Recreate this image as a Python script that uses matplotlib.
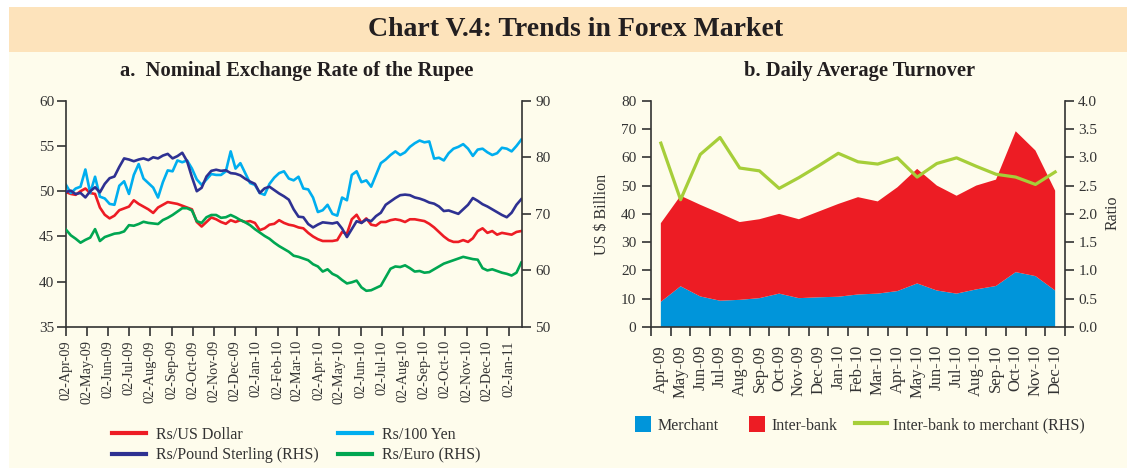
import matplotlib
matplotlib.use('Agg')
import matplotlib.pyplot as plt
import matplotlib.dates as mdates
from matplotlib.patches import Rectangle, Patch
from matplotlib.lines import Line2D
from matplotlib.ticker import FixedLocator, FormatStrFormatter
import numpy as np
import pandas as pd

# ---------------- data: panel a (weekly readings from 02-Apr-2009) ----------------
usd = [49.9, 49.7, 49.6, 50.0, 50.3, 49.8, 49.7, 48.2, 47.4, 47.0,
       47.3, 47.9, 48.1, 48.3, 49.0, 48.6, 48.3, 48.0, 47.6, 48.2,
       48.5, 48.8, 48.7, 48.6, 48.4, 48.2, 48.0, 46.6, 46.1, 46.6,
       47.1, 46.9, 46.6, 46.4, 46.8, 46.6, 46.8, 46.6, 46.7, 46.5,
       45.7, 45.9, 46.3, 46.4, 46.8, 46.5, 46.3, 46.2, 46.0, 45.9,
       45.4, 45.0, 44.7, 44.5, 44.5, 44.5, 44.6, 45.5, 45.3, 46.9,
       47.4, 46.5, 47.0, 46.3, 46.2, 46.6, 46.6, 46.8, 46.9, 46.8,
       46.6, 46.9, 46.9, 46.8, 46.7, 46.4, 46.0, 45.5, 45.0, 44.6,
       44.4, 44.4, 44.6, 44.4, 44.8, 45.6, 45.9, 45.4, 45.6, 45.2,
       45.4, 45.3, 45.2, 45.5, 45.6]
yen = [50.7, 49.8, 50.3, 50.5, 52.4, 49.8, 51.6, 49.4, 49.2, 48.6,
       48.5, 50.6, 51.1, 49.7, 51.8, 53.0, 51.4, 50.9, 50.4, 49.3,
       51.0, 52.3, 52.2, 53.4, 53.2, 53.4, 52.5, 51.3, 50.7, 51.3,
       51.9, 51.8, 51.8, 52.2, 54.4, 52.5, 53.1, 52.0, 50.9, 50.7,
       49.8, 49.6, 50.8, 51.5, 52.0, 52.2, 51.4, 51.2, 51.6, 50.3,
       50.2, 49.3, 47.7, 47.9, 48.5, 47.5, 47.3, 49.3, 49.0, 51.8,
       52.2, 51.0, 51.2, 50.5, 51.8, 53.1, 53.5, 54.0, 54.4, 54.0,
       54.3, 54.9, 55.3, 55.6, 55.4, 55.5, 53.6, 53.7, 53.4, 54.2,
       54.7, 54.9, 55.2, 54.7, 53.9, 54.6, 54.7, 54.3, 54.0, 54.2,
       54.8, 54.7, 54.4, 55.0, 55.7]
pound = [73.9, 74.1, 73.5, 73.7, 72.9, 74.0, 74.7, 73.8, 75.3, 76.3,
         76.6, 78.3, 79.8, 79.6, 79.3, 79.6, 79.8, 79.5, 80.0, 79.8,
         80.3, 80.6, 79.8, 80.2, 80.8, 79.3, 76.5, 74.0, 74.6, 76.6,
         77.6, 77.8, 77.6, 77.7, 77.2, 77.1, 76.8, 76.2, 75.7, 75.3,
         73.7, 74.5, 74.8, 74.2, 73.6, 73.1, 72.5, 70.8, 69.5, 69.4,
         68.2, 67.6, 68.1, 68.5, 68.4, 68.3, 68.5, 67.4, 65.9, 67.3,
         68.7, 68.4, 69.0, 68.7, 69.6, 70.2, 71.6, 72.2, 72.8, 73.3,
         73.4, 73.3, 72.9, 72.7, 72.4, 72.0, 71.8, 71.3, 70.5, 70.6,
         70.3, 70.0, 70.8, 71.6, 72.8, 72.3, 71.7, 71.3, 70.8, 70.3,
         69.8, 69.4, 70.2, 71.6, 72.6]
euro = [67.2, 66.2, 65.6, 64.9, 65.4, 65.8, 67.3, 65.2, 65.9, 66.2,
        66.5, 66.6, 66.9, 68.0, 67.9, 68.2, 68.6, 68.4, 68.3, 68.2,
        68.9, 69.3, 69.8, 70.4, 71.0, 71.0, 70.6, 68.7, 68.4, 69.4,
        69.8, 69.8, 69.3, 69.4, 69.8, 69.4, 68.9, 68.5, 68.0, 67.3,
        66.7, 66.1, 65.6, 64.9, 64.3, 63.8, 63.3, 62.6, 62.4, 62.1,
        61.8, 61.1, 60.7, 59.8, 60.2, 59.4, 59.0, 58.3, 57.7, 57.9,
        58.2, 57.0, 56.4, 56.5, 56.9, 57.3, 58.8, 60.3, 60.7, 60.6,
        60.9, 60.4, 59.8, 59.9, 59.6, 59.7, 60.2, 60.7, 61.2, 61.5,
        61.8, 62.1, 62.4, 62.2, 62.0, 61.9, 60.4, 60.0, 60.2, 59.9,
        59.6, 59.4, 59.1, 59.6, 61.4]
start_date = '2009-04-02'
end_date = '2011-01-21'

# ---------------- data: panel b ----------------
months = ['Apr-09', 'May-09', 'Jun-09', 'Jul-09', 'Aug-09', 'Sep-09', 'Oct-09',
          'Nov-09', 'Dec-09', 'Jan-10', 'Feb-10', 'Mar-10', 'Apr-10', 'May-10',
          'Jun-10', 'Jul-10', 'Aug-10', 'Sep-10', 'Oct-10', 'Nov-10', 'Dec-10']
merchant = [8.9, 14.4, 10.8, 9.3, 9.6, 10.2, 11.8, 10.2, 10.5, 10.7, 11.5,
            11.8, 12.7, 15.4, 12.9, 11.8, 13.3, 14.5, 19.4, 18.0, 12.9]
interbank = [27.8, 32.0, 32.4, 30.9, 27.5, 27.9, 28.2, 27.9, 30.3, 32.8, 34.4,
             32.6, 36.7, 40.5, 37.1, 34.6, 36.7, 37.6, 49.8, 44.4, 35.3]
ratio = [3.25, 2.25, 3.05, 3.35, 2.81, 2.76, 2.45, 2.64, 2.85, 3.07, 2.92,
         2.88, 2.99, 2.65, 2.89, 2.99, 2.84, 2.70, 2.65, 2.52, 2.74]

# ---------------- style ----------------
plt.rcParams['font.family'] = ['Liberation Serif', 'DejaVu Serif']
CREAM = '#fefcec'
ORANGE = '#fde3bb'
AXC = '#333333'
TXT = '#333333'
C_USD, C_YEN, C_GBP, C_EUR = '#ed1c24', '#00aeef', '#2e3192', '#00a651'
C_MER, C_INT, C_RAT = '#0095da', '#ed1c24', '#a6ce39'

W, H = 1127, 468
fig = plt.figure(figsize=(W / 100, H / 100), dpi=100)
fig.patch.set_facecolor('white')


def fx(px):
    return px / W


def fy(py):
    return 1 - py / H


fig.add_artist(Rectangle((fx(9), fy(468)), fx(1127) - fx(9), fy(52) - fy(468),
                         transform=fig.transFigure, facecolor=CREAM,
                         edgecolor='none', zorder=-10))
fig.add_artist(Rectangle((fx(9), fy(52)), fx(1127) - fx(9), fy(7) - fy(52),
                         transform=fig.transFigure, facecolor=ORANGE,
                         edgecolor='none', zorder=-10))

fig.text(fx(576), fy(30), 'Chart V.4: Trends in Forex Market', ha='center',
         va='center', fontsize=20, fontweight='bold', color='#231f20')
fig.text(fx(297), fy(71), 'a.  Nominal Exchange Rate of the Rupee', ha='center',
         va='center', fontsize=14.8, fontweight='bold', color='#231f20')
fig.text(fx(860), fy(71), 'b. Daily Average Turnover', ha='center',
         va='center', fontsize=14.8, fontweight='bold', color='#231f20')


def style_spines(ax, visible):
    for s in ['top', 'bottom', 'left', 'right']:
        ax.spines[s].set_visible(s in visible)
        ax.spines[s].set_color(AXC)
        ax.spines[s].set_linewidth(1.2)
    ax.set_facecolor('none')


TL = 6.5
# ---------------- panel a ----------------
axa = fig.add_axes([fx(66), fy(327), fx(522) - fx(66), fy(100.7) - fy(327)])
axa2 = axa.twinx()
style_spines(axa, ['left', 'bottom'])
style_spines(axa2, ['right'])
dates = pd.date_range(start_date, periods=len(usd), freq='7D')

axa.plot(dates, usd, color=C_USD, lw=1.9, label='Rs/US Dollar')
axa.plot(dates, yen, color=C_YEN, lw=1.9, label='Rs/100 Yen')
axa2.plot(dates, pound, color=C_GBP, lw=1.9, label='Rs/Pound Sterling (RHS)')
axa2.plot(dates, euro, color=C_EUR, lw=1.9, label='Rs/Euro (RHS)')

axa.set_xlim(pd.Timestamp(start_date), pd.Timestamp(end_date))
axa.set_ylim(35, 60)
axa2.set_ylim(50, 90)
axa.set_yticks(np.arange(35, 61, 5))
axa2.set_yticks(np.arange(50, 91, 10))
axa.xaxis.set_major_locator(mdates.MonthLocator(bymonthday=2))
axa.xaxis.set_major_formatter(mdates.DateFormatter('%d-%b-%y'))
for lab in axa.get_xticklabels():
    lab.set_rotation(90)
axa.tick_params(axis='x', direction='out', length=TL, width=1.2, color=AXC,
                labelsize=10.3, labelcolor=TXT, pad=3)
axa.tick_params(axis='y', direction='out', length=TL, width=1.2, color=AXC,
                labelsize=11, labelcolor=TXT, pad=2)
axa2.tick_params(axis='y', direction='out', length=TL, width=1.2, color=AXC,
                 labelsize=11, labelcolor=TXT, pad=3)

h = [Line2D([], [], color=c, lw=3) for c in (C_USD, C_GBP, C_YEN, C_EUR)]
lab = ['Rs/US Dollar', 'Rs/Pound Sterling (RHS)', 'Rs/100 Yen', 'Rs/Euro (RHS)']
fig.legend(h, lab, ncol=2, loc='upper left', bbox_to_anchor=(fx(112), fy(427)),
           frameon=False, borderpad=0, borderaxespad=0, handlelength=2.15,
           handletextpad=0.6, columnspacing=1.2, labelspacing=0.27,
           fontsize=11.5, labelcolor=TXT)

# ---------------- panel b ----------------
axb = fig.add_axes([fx(651), fy(327), fx(1065) - fx(651), fy(100.7) - fy(327)])
axb2 = axb.twinx()
style_spines(axb, ['left', 'bottom'])
style_spines(axb2, ['right'])
x = np.arange(len(months))
axb.stackplot(x, merchant, interbank, colors=[C_MER, C_INT], linewidth=0)
axb2.plot(x, ratio, color=C_RAT, lw=2.3)
axb.set_xlim(-0.5, len(months) - 0.5)
axb.set_ylim(0, 80)
axb2.set_ylim(0, 4)
axb.set_yticks(np.arange(0, 81, 10))
axb2.set_yticks(np.arange(0, 4.01, 0.5))
axb2.yaxis.set_major_formatter(FormatStrFormatter('%.1f'))
axb.set_xticks(x)
axb.set_xticklabels(months, rotation=90)
axb.xaxis.set_minor_locator(FixedLocator(np.arange(-0.5, len(months), 1)))
axb.tick_params(axis='x', which='major', length=0, labelsize=12,
                labelcolor=TXT, pad=13)
axb.tick_params(axis='x', which='minor', direction='out', length=TL,
                width=1.2, color=AXC)
axb.tick_params(axis='y', direction='out', length=TL, width=1.2, color=AXC,
                labelsize=11, labelcolor=TXT, pad=4)
axb2.tick_params(axis='y', direction='out', length=TL, width=1.2, color=AXC,
                 labelsize=11, labelcolor=TXT, pad=3)
fig.text(fx(602), fy(214), 'US $ Billion', rotation=90, ha='center', va='center',
         fontsize=11.5, color=TXT)
fig.text(fx(1113), fy(213), 'Ratio', rotation=90, ha='center', va='center',
         fontsize=11.5, color=TXT)

leg_kw = dict(frameon=False, borderpad=0, borderaxespad=0, fontsize=11.5,
              labelcolor=TXT, handletextpad=0.4, loc='center left')
fig.legend([Patch(facecolor=C_MER)], ['Merchant'],
           bbox_to_anchor=(fx(635), fy(425)), handlelength=1.0,
           handleheight=1.1, **leg_kw)
fig.legend([Patch(facecolor=C_INT)], ['Inter-bank'],
           bbox_to_anchor=(fx(749), fy(425)), handlelength=1.0,
           handleheight=1.1, **leg_kw)
fig.legend([Line2D([], [], color=C_RAT, lw=3)],
           ['Inter-bank to merchant (RHS)'],
           bbox_to_anchor=(fx(855), fy(425)), handlelength=2.0, **leg_kw)

fig.savefig('out.png', dpi=100, facecolor=fig.get_facecolor())
